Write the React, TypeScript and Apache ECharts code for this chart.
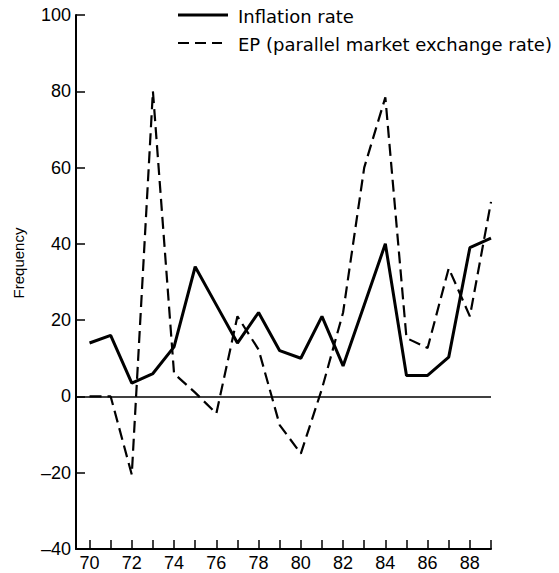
import React, { useEffect, useRef } from "react";
import * as echarts from "echarts";

const years = [70, 71, 72, 73, 74, 75, 76, 77, 78, 79, 80, 81, 82, 83, 84, 85, 86, 87, 88, 89];
const inflation = [14, 16, 3.5, 6, 13, 34, 24, 14, 22, 12, 10, 21, 8, 24, 40, 5.5, 5.5, 10.3, 39, 41.5];
const ep = [0, 0, -20.5, 80, 6, 1, -4.5, 21, 12.3, -7.5, -15, 2, 22, 60, 78.4, 15.3, 12.7, 33.6, 21, 51];
const xTickYears = years;
const xLabelYears = [70, 72, 74, 76, 78, 80, 82, 84, 86, 88];
const seriesNames = ["Inflation rate", "EP (parallel market exchange rate)"];
const yTitle = "Frequency";

export default function App() {
  const ref = useRef<HTMLDivElement>(null);
  useEffect(() => {
    if (!ref.current) return;
    const chart = echarts.init(ref.current, null, { renderer: "svg" });
    const ink = "#000";
    const labelFont = "'Liberation Sans', Arial, sans-serif";
    const legendFont = "'DejaVu Sans', sans-serif";
    const dash = [12, 6];
    chart.setOption({
      animation: false,
      backgroundColor: "#fff",
      grid: { left: 76, right: 68, top: 15, bottom: 24, containLabel: false },
      xAxis: {
        type: "value",
        min: 69.36,
        max: 89,
        axisLine: { show: true, onZero: false, lineStyle: { color: ink, width: 2 } },
        axisTick: {
          show: true,
          inside: true,
          length: 9,
          customValues: xTickYears,
          lineStyle: { color: ink, width: 1.5 },
        },
        axisLabel: {
          customValues: xLabelYears,
          margin: 5,
          fontFamily: labelFont,
          fontSize: 18,
          color: ink,
        },
        splitLine: { show: false },
      },
      yAxis: {
        type: "value",
        min: -40,
        max: 100,
        interval: 20,
        axisLine: { show: true, lineStyle: { color: ink, width: 2 } },
        axisTick: { show: true, inside: true, length: 9, lineStyle: { color: ink, width: 1.5 } },
        axisLabel: {
          margin: 5,
          fontFamily: labelFont,
          fontSize: 18,
          color: ink,
          formatter: (v: number) => (v < 0 ? "\u2013" + Math.abs(v) : String(v)),
        },
        splitLine: { show: false },
      },
      graphic: [
        {
          type: "text",
          x: 18,
          y: 263,
          rotation: Math.PI / 2,
          style: {
            text: yTitle,
            fontFamily: labelFont,
            fontSize: 15,
            fill: ink,
            align: "center",
            verticalAlign: "middle",
          },
        },
        {
          type: "line",
          shape: { x1: 178, y1: 15, x2: 228, y2: 15 },
          style: { stroke: ink, lineWidth: 3 },
        },
        {
          type: "text",
          x: 238,
          y: 16,
          style: {
            text: seriesNames[0],
            fontFamily: legendFont,
            fontSize: 18,
            fill: ink,
            align: "left",
            verticalAlign: "middle",
          },
        },
        {
          type: "line",
          shape: { x1: 178, y1: 43, x2: 222, y2: 43 },
          style: { stroke: ink, lineWidth: 2, lineDash: [11, 6] },
        },
        {
          type: "text",
          x: 238,
          y: 44,
          style: {
            text: seriesNames[1],
            fontFamily: legendFont,
            fontSize: 18,
            fill: ink,
            align: "left",
            verticalAlign: "middle",
          },
        },
      ],
      series: [
        {
          name: seriesNames[0],
          type: "line",
          data: years.map((y, i) => [y, inflation[i]]),
          symbol: "none",
          lineStyle: { color: ink, width: 3, type: "solid" },
          itemStyle: { color: ink },
          markLine: {
            silent: true,
            symbol: ["none", "none"],
            label: { show: false },
            lineStyle: { color: ink, width: 1.6, type: "solid" },
            data: [{ yAxis: 0 }],
          },
          z: 3,
        },
        {
          name: seriesNames[1],
          type: "line",
          data: years.map((y, i) => [y, ep[i]]),
          symbol: "none",
          lineStyle: { color: ink, width: 2.2, type: dash },
          itemStyle: { color: ink },
          z: 2,
        },
      ],
    });
    return () => chart.dispose();
  }, []);
  return (
    <div
      ref={ref}
      style={{ position: "fixed", left: 0, top: 0, width: 559, height: 573, background: "#fff" }}
    />
  );
}
